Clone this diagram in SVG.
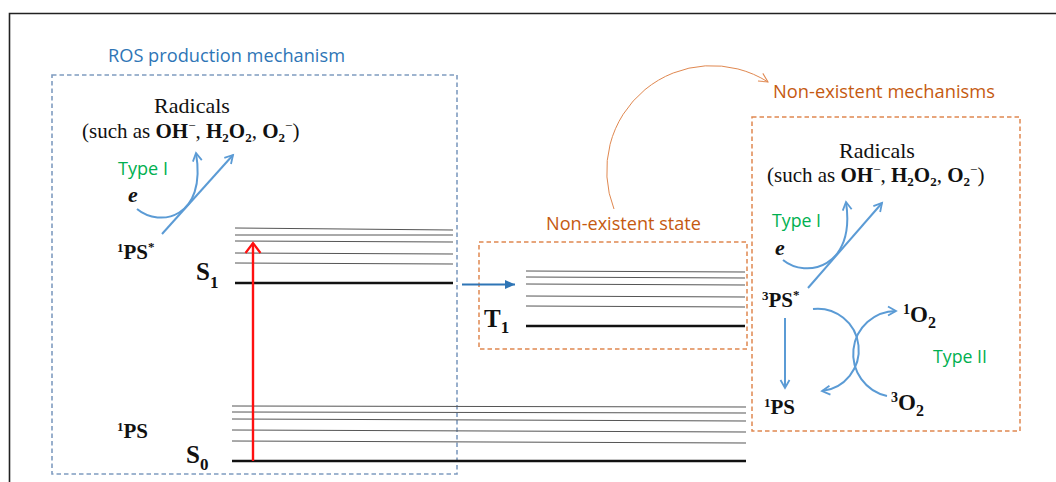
<svg xmlns="http://www.w3.org/2000/svg" width="1056" height="482" viewBox="0 0 1056 482">
<style>
.serif{font-family:"Liberation Serif","Times New Roman",serif;fill:#111}
.b{font-weight:bold}
.sans{font-family:"Open Sans","Liberation Sans",Arial,sans-serif}
.blueT{fill:#2E75B6}
.orT{fill:#C55A11}
.grT{fill:#00B050}
.lvl{stroke:#555;stroke-width:1}
.thick{stroke:#111;stroke-width:2.6}
.barr{fill:none;stroke:#5B9BD5;stroke-width:2;marker-end:url(#ab)}
</style>
<defs>
<marker id="ab" markerWidth="12" markerHeight="12" refX="9" refY="6" orient="auto" markerUnits="userSpaceOnUse"><path d="M1,1.5 L9,6 L1,10.5" fill="none" stroke="#5B9BD5" stroke-width="1.8"/></marker>
<marker id="ar" markerWidth="16" markerHeight="18" refX="12" refY="9" orient="auto" markerUnits="userSpaceOnUse"><path d="M2,1.5 L12,9 L2,16.5" fill="none" stroke="#FF1010" stroke-width="2.2"/></marker>
<marker id="ao" markerWidth="12" markerHeight="12" refX="10" refY="6" orient="auto" markerUnits="userSpaceOnUse"><path d="M1,1.5 L10,6 L1,10.5" fill="none" stroke="#E08850" stroke-width="1"/></marker>
<marker id="adb" markerWidth="12" markerHeight="10" refX="10" refY="4.5" orient="auto" markerUnits="userSpaceOnUse"><path d="M0,0 L10,4.5 L0,9 z" fill="#2E75B6"/></marker>
</defs>
<rect width="1056" height="482" fill="#fff"/>
<g id="frame" stroke="#222" stroke-width="1.6" fill="none">
<path d="M9.5,482 L9.5,13.5 L1056,13.5"/>
</g>

<g id="ros-box">
<rect x="52" y="75" width="405" height="399" fill="none" stroke="#7F9CC0" stroke-width="1.6" stroke-dasharray="4.5,3"/>
<text x="108" y="62" class="sans blueT" font-size="19" textLength="237" lengthAdjust="spacingAndGlyphs">ROS production mechanism</text>
</g>

<g id="radicals-left">
<text x="192" y="113" class="serif" font-size="22" text-anchor="middle">Radicals</text>
<text x="82" y="138" class="serif" font-size="21">(such as <tspan class="b">OH</tspan><tspan font-size="13" dy="-8">−</tspan><tspan dy="8">, </tspan><tspan class="b">H</tspan><tspan class="b" font-size="13" dy="4">2</tspan><tspan class="b" dy="-4">O</tspan><tspan class="b" font-size="13" dy="4">2</tspan><tspan dy="-4">, </tspan><tspan class="b">O</tspan><tspan class="b" font-size="13" dy="4">2</tspan><tspan font-size="13" dy="-12">−</tspan><tspan dy="8">)</tspan></text>
<text x="118" y="175" class="sans grT" font-size="18" textLength="50" lengthAdjust="spacingAndGlyphs">Type I</text>
<text x="128" y="202" class="serif b" font-size="22" font-style="italic">e</text>
<text x="117" y="259" class="serif b" font-size="21"><tspan font-size="13" dy="-7">1</tspan><tspan dy="7">PS</tspan><tspan font-size="13" dy="-8">*</tspan></text>
</g>

<g id="S1-levels">
<line class="lvl" x1="235" y1="228" x2="453" y2="230"/>
<line class="lvl" x1="235" y1="235" x2="453" y2="235"/>
<line class="lvl" x1="235" y1="241" x2="453" y2="242"/>
<line class="lvl" x1="235" y1="253" x2="453" y2="254"/>
<line class="lvl" x1="235" y1="263" x2="453" y2="264"/>
<line class="thick" x1="235" y1="283" x2="453" y2="283"/>
<text x="196" y="280" class="serif b" font-size="25">S<tspan font-size="17" dy="8">1</tspan></text>
</g>

<g id="S0-levels">
<line class="lvl" x1="232" y1="406" x2="746" y2="407"/>
<line class="lvl" x1="232" y1="412" x2="746" y2="413"/>
<line class="lvl" x1="232" y1="419" x2="746" y2="421"/>
<line class="lvl" x1="232" y1="430" x2="746" y2="432"/>
<line class="lvl" x1="232" y1="441" x2="746" y2="443"/>
<line class="thick" x1="232" y1="461" x2="746" y2="461"/>
<text x="117" y="438" class="serif b" font-size="21"><tspan font-size="13" dy="-7">1</tspan><tspan dy="7">PS</tspan></text>
<text x="186" y="463" class="serif b" font-size="25">S<tspan font-size="17" dy="7">0</tspan></text>
</g>

<g id="T1-state">
<rect x="479" y="242" width="268" height="107" fill="none" stroke="#E08850" stroke-width="1.5" stroke-dasharray="4.5,3"/>
<text x="546" y="230" class="sans orT" font-size="19" textLength="155" lengthAdjust="spacingAndGlyphs">Non-existent state</text>
<line class="lvl" x1="526" y1="271" x2="745" y2="272"/>
<line class="lvl" x1="526" y1="277" x2="745" y2="278"/>
<line class="lvl" x1="526" y1="284" x2="745" y2="285"/>
<line class="lvl" x1="526" y1="296" x2="745" y2="297"/>
<line class="lvl" x1="526" y1="306" x2="745" y2="307"/>
<line class="thick" x1="526" y1="326" x2="745" y2="326"/>
<text x="484" y="327" class="serif b" font-size="25">T<tspan font-size="17" dy="6">1</tspan></text>
</g>

<g id="mech-box">
<rect x="752" y="117" width="268" height="314" fill="none" stroke="#E08850" stroke-width="1.5" stroke-dasharray="4.5,3"/>
<text x="773" y="98" class="sans orT" font-size="19" textLength="222" lengthAdjust="spacingAndGlyphs">Non-existent mechanisms</text>
<text x="877" y="158" class="serif" font-size="22" text-anchor="middle">Radicals</text>
<text x="767" y="182" class="serif" font-size="21">(such as <tspan class="b">OH</tspan><tspan font-size="13" dy="-8">−</tspan><tspan dy="8">, </tspan><tspan class="b">H</tspan><tspan class="b" font-size="13" dy="4">2</tspan><tspan class="b" dy="-4">O</tspan><tspan class="b" font-size="13" dy="4">2</tspan><tspan dy="-4">, </tspan><tspan class="b">O</tspan><tspan class="b" font-size="13" dy="4">2</tspan><tspan font-size="13" dy="-12">−</tspan><tspan dy="8">)</tspan></text>
<text x="772" y="227" class="sans grT" font-size="18" textLength="49" lengthAdjust="spacingAndGlyphs">Type I</text>
<text x="775" y="255" class="serif b" font-size="22" font-style="italic">e</text>
<text x="762" y="307" class="serif b" font-size="21"><tspan font-size="13" dy="-7">3</tspan><tspan dy="7">PS</tspan><tspan font-size="13" dy="-8">*</tspan></text>
<text x="764" y="414" class="serif b" font-size="21"><tspan font-size="13" dy="-7">1</tspan><tspan dy="7">PS</tspan></text>
<text x="903" y="322" class="serif b" font-size="23"><tspan font-size="14" dy="-8">1</tspan><tspan dy="8">O</tspan><tspan font-size="16" dy="6">2</tspan></text>
<text x="891" y="410" class="serif b" font-size="23"><tspan font-size="14" dy="-8">3</tspan><tspan dy="8">O</tspan><tspan font-size="16" dy="6">2</tspan></text>
<text x="933" y="363" class="sans grT" font-size="18" textLength="54" lengthAdjust="spacingAndGlyphs">Type II</text>
</g>

<g id="connectors">
<path class="barr" d="M137,209 C160,228 207,218 196,153"/>
<path class="barr" d="M162,234 L233,155"/>
<path d="M253,461 L253,243" stroke="#FF1010" stroke-width="2.4" fill="none" marker-end="url(#ar)"/>
<path d="M462,284.5 L515,284.5" stroke="#2E75B6" stroke-width="2" fill="none" marker-end="url(#adb)"/>
<path d="M614,209 A105,105 0 0 1 768,82" stroke="#E08850" stroke-width="1" fill="none" marker-end="url(#ao)"/>
<path class="barr" d="M783,260 C806,279 856,268 846,202"/>
<path class="barr" d="M808,288 L882,203"/>
<path class="barr" d="M785,318 L785,388"/>
<path class="barr" d="M813,309 A41,41 0 0 1 822,391"/>
<path class="barr" d="M887,396 A43,43 0 0 1 896,311"/>
</g>
</svg>
